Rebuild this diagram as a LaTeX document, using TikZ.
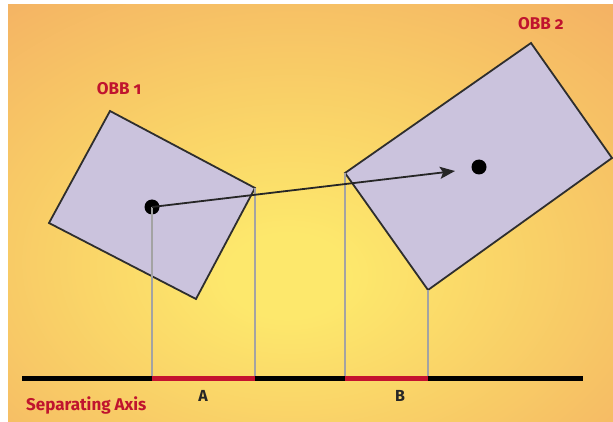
\documentclass[tikz,border=0pt]{standalone}
\usepackage{fontspec}
\newfontfamily\labfont[Numbers=OldStyle]{Fira Sans}
\usetikzlibrary{arrows.meta}
\definecolor{bgY}{HTML}{FDE86C}
\definecolor{bgM}{HTML}{F8CA66}
\definecolor{bgO}{HTML}{F3AD63}
\definecolor{boxfill}{HTML}{CBC3DD}
\definecolor{boxline}{HTML}{2E2E2E}
\definecolor{projgray}{HTML}{A3A3A3}
\definecolor{axred}{HTML}{C4122F}
\definecolor{lblred}{HTML}{C0142E}
\pgfdeclareradialshading{bgshade}{\pgfpoint{-2bp}{-8bp}}{color(0bp)=(bgY); color(5bp)=(bgY); color(24bp)=(bgM); color(42bp)=(bgO); color(80bp)=(bgO)}
\tikzset{
  obb/.style={fill=boxfill, draw=boxline, line width=1.8pt, line join=miter},
  proj/.style={draw=projgray, line width=2.6pt},
  axisline/.style={draw=black, line width=5pt},
  overlap/.style={draw=axred, line width=5pt},
  ctr/.style={circle, fill=black, inner sep=0pt, minimum size=15pt},
  redlbl/.style={text=lblred, font=\labfont\bfseries\fontsize{17}{19}\selectfont, inner sep=0pt},
  blklbl/.style={text=black!85, font=\labfont\bfseries\fontsize{16}{18}\selectfont, inner sep=0pt},
  vec/.style={draw=black!85, line width=1.8pt, -{Stealth[length=15pt,width=12pt,inset=3pt]}}
}
\begin{document}
\begin{tikzpicture}[x=1pt,y=-1pt]
\useasboundingbox (0,0) rectangle (613,422);
\fill[white] (0,0) rectangle (613,422);
\shade[shading=bgshade] (8,5) rectangle (613,422);
% OBB 1 corners
\coordinate (a1) at (110,111);
\coordinate (a2) at (255,188);
\coordinate (a3) at (196,299);
\coordinate (a4) at (49,223);
% OBB 2 corners
\coordinate (b1) at (531,43);
\coordinate (b2) at (612,158);
\coordinate (b3) at (428,290);
\coordinate (b4) at (345,173);
\draw[obb] (a1) -- (a2) -- (a3) -- (a4) -- cycle;
\draw[obb] (b1) -- (b2) -- (b3) -- (b4) -- cycle;
% axis
\coordinate (axL) at (22,378);
\coordinate (axR) at (583,378);
\coordinate (pA1) at (152,378);
\coordinate (pA2) at (255,378);
\coordinate (pB1) at (345,378);
\coordinate (pB2) at (428,378);
\node[ctr] (c1) at (152,207) {};
\node[ctr] (c2) at (479,167) {};
\coordinate (tip) at (455,171);
\draw[proj] (c1.center) -- (pA1);
\draw[proj] (a2) -- (pA2);
\draw[proj] (b4) -- (pB1);
\draw[proj] (b3) -- (pB2);
\draw[axisline] (axL) -- (axR);
\draw[overlap] (pA1) -- (pA2);
\draw[overlap] (pB1) -- (pB2);
\draw[vec] (c1.center) -- (tip);
% labels
\node[redlbl] (l1) at (119,89) {OBB 1};
\node[redlbl] (l2) at (541,24) {OBB 2};
\node[blklbl] (la) at (203,396) {A};
\node[blklbl] (lb) at (400,396) {B};
\node[redlbl, anchor=west] (sep) at (26,405) {Separating Axis};
\end{tikzpicture}
\end{document}
